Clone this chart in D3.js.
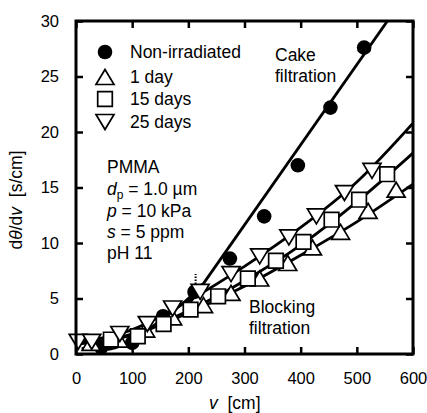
<!DOCTYPE html>
<html>
<head>
<meta charset="utf-8">
<script src="https://cdn.jsdelivr.net/npm/d3@7"></script>
<style>
  html, body { margin: 0; padding: 0; background: #fff; }
  text { font-family: "Liberation Sans", Arial, sans-serif; fill: #000; }
</style>
</head>
<body>
<div id="chart"></div>
<script>
'use strict';

// ---- data (v in cm, dθ/dv in s/cm) ----
const nonIrrV  = [45, 100, 155, 211, 274, 335, 395, 453, 513];
const nonIrrT  = [0.6, 1.0, 3.4, 5.6, 8.6, 12.4, 17.0, 22.2, 27.6];

const day1V    = [27, 76, 124, 172, 227, 276, 327, 377, 421, 471, 520, 570];
const day1T    = [1.0, 1.3, 2.2, 3.3, 4.4, 5.5, 6.8, 8.2, 9.6, 11.0, 12.9, 14.8];

const day15V   = [62, 110, 156, 204, 253, 306, 356, 405, 455, 504, 554];
const day15T   = [1.3, 1.6, 2.7, 4.0, 5.2, 6.8, 8.4, 10.1, 12.1, 13.9, 16.2];

const day25V   = [4, 28, 78, 127, 172, 221, 276, 327, 379, 428, 478, 527];
const day25T   = [1.1, 1.1, 1.8, 2.7, 4.1, 5.6, 7.2, 8.8, 10.5, 12.4, 14.5, 16.5];

// fitted curves
const cakeFitV     = [200, 560];
const cakeFitT     = [4.4, 30.4];
const nonIrrFitV   = [10, 50, 100, 150, 200, 225];
const nonIrrFitT   = [0.5, 0.4, 1.2, 3.0, 5.0, 6.3];
const day1FitV     = [0, 100, 200, 300, 400, 500, 600];
const day1FitT     = [0.9, 1.7, 3.7, 6.1, 8.9, 11.9, 15.3];
const day15FitV    = [0, 100, 200, 300, 400, 500, 600];
const day15FitT    = [0.9, 1.8, 3.9, 6.6, 9.8, 13.7, 18.1];
const day25FitV    = [0, 100, 200, 300, 400, 500, 600];
const day25FitT    = [1.0, 2.2, 4.8, 7.9, 11.4, 15.5, 20.8];

const transitionV  = 213;
const transitionT  = [6.3, 7.2];

const xTicks = [0, 100, 200, 300, 400, 500, 600];
const yTicks = [0, 5, 10, 15, 20, 25, 30];

const legendLabels = ['Non-irradiated', '1 day', '15 days', '25 days'];
const legendShapes = ['circle', 'up', 'square', 'down'];

// ---- layout ----
const W = 427, H = 413;
const x = d3.scaleLinear().domain([0, 600]).range([76, 413]);
const y = d3.scaleLinear().domain([0, 30]).range([354, 21]);

const svg = d3.select('#chart').append('svg')
    .attr('width', W).attr('height', H);

svg.append('defs').append('clipPath').attr('id', 'plot')
  .append('rect')
    .attr('x', x(0)).attr('y', y(30))
    .attr('width', x(600) - x(0)).attr('height', y(0) - y(30));

// ---- axes (ticks point inward) ----
const axisStyle = g => {
  g.select('.domain').remove();
  g.selectAll('.tick line').attr('stroke', '#000').attr('stroke-width', 2.5);
  g.selectAll('.tick text').attr('font-size', 16.5)
    .style('font-family', '"Liberation Sans", Arial, sans-serif');
};

svg.append('g').attr('transform', `translate(0,${y(0)})`)
  .call(d3.axisBottom(x).tickValues(xTicks).tickSize(-7).tickPadding(18))
  .call(axisStyle);
svg.append('g').attr('transform', `translate(0,${y(30)})`)
  .call(d3.axisTop(x).tickValues(xTicks).tickSize(-7).tickFormat(''))
  .call(axisStyle);
svg.append('g').attr('transform', `translate(${x(0)},0)`)
  .call(d3.axisLeft(y).tickValues(yTicks).tickSize(-7).tickPadding(17))
  .call(axisStyle);
svg.append('g').attr('transform', `translate(${x(600)},0)`)
  .call(d3.axisRight(y).tickValues(yTicks).tickSize(-7).tickFormat(''))
  .call(axisStyle);

// ---- fit lines ----
const lines = svg.append('g').attr('clip-path', 'url(#plot)');
const zip = (vs, ts) => vs.map((v, i) => [v, ts[i]]);
const curve = d3.line().x(d => x(d[0])).y(d => y(d[1])).curve(d3.curveMonotoneX);

[[cakeFitV, cakeFitT], [nonIrrFitV, nonIrrFitT], [day1FitV, day1FitT],
 [day15FitV, day15FitT], [day25FitV, day25FitT]].forEach(([vs, ts]) => {
  lines.append('path')
    .attr('d', curve(zip(vs, ts)))
    .attr('fill', 'none')
    .attr('stroke', '#000')
    .attr('stroke-width', 2.8);
});

lines.append('line')
  .attr('x1', x(transitionV)).attr('x2', x(transitionV))
  .attr('y1', y(transitionT[0])).attr('y2', y(transitionT[1]))
  .attr('stroke', '#000').attr('stroke-width', 2)
  .attr('stroke-dasharray', '1.5,1.5');

// ---- markers ----
function marker(g, shape, cx, cy) {
  if (shape === 'circle') {
    g.append('circle').attr('cx', cx).attr('cy', cy).attr('r', 7.3)
      .attr('fill', '#000');
    return;
  }
  let d;
  if (shape === 'square') d = `M${cx - 7.3},${cy - 7.3}h14.6v14.6h-14.6Z`;
  if (shape === 'up')     d = `M${cx},${cy - 7.5}L${cx + 9},${cy + 7.5}L${cx - 9},${cy + 7.5}Z`;
  if (shape === 'down')   d = `M${cx},${cy + 7.5}L${cx + 9},${cy - 7.5}L${cx - 9},${cy - 7.5}Z`;
  g.append('path').attr('d', d)
    .attr('fill', '#fff').attr('stroke', '#000')
    .attr('stroke-width', 1.7).attr('stroke-linejoin', 'miter');
}

const pts = svg.append('g');
[[nonIrrV, nonIrrT, 'circle'], [day1V, day1T, 'up'],
 [day15V, day15T, 'square'], [day25V, day25T, 'down']].forEach(([vs, ts, s]) => {
  vs.forEach((v, i) => marker(pts, s, x(v), y(ts[i])));
});

// ---- frame ----
svg.append('rect')
  .attr('x', x(0)).attr('y', y(30))
  .attr('width', x(600) - x(0)).attr('height', y(0) - y(30))
  .attr('fill', 'none').attr('stroke', '#000').attr('stroke-width', 3);

// ---- legend ----
const legY = [52, 77, 99, 122];
legendLabels.forEach((lab, i) => {
  marker(svg, legendShapes[i], 105, legY[i]);
  svg.append('text').attr('x', 130).attr('y', legY[i] + 6)
    .attr('font-size', 17.5).text(lab);
});

// ---- conditions ----
const cond = svg.append('text').attr('font-size', 17.5);
cond.append('tspan').attr('x', 107).attr('y', 173).text('PMMA');
const l2 = cond.append('tspan').attr('x', 107).attr('y', 195);
l2.append('tspan').attr('font-style', 'italic').text('d');
l2.append('tspan').attr('font-size', 12).attr('dy', 4).text('p');
l2.append('tspan').attr('dy', -4).text(' = 1.0 µm');
const l3 = cond.append('tspan').attr('x', 107).attr('y', 217);
l3.append('tspan').attr('font-style', 'italic').text('p');
l3.append('tspan').text(' = 10 kPa');
const l4 = cond.append('tspan').attr('x', 107).attr('y', 238);
l4.append('tspan').attr('font-style', 'italic').text('s');
l4.append('tspan').text(' = 5 ppm');
cond.append('tspan').attr('x', 107).attr('y', 259).text('pH 11');

// ---- annotations ----
svg.append('text').attr('x', 275).attr('y', 61).attr('font-size', 17.5).text('Cake');
svg.append('text').attr('x', 275).attr('y', 82).attr('font-size', 17.5).text('filtration');
svg.append('text').attr('x', 249).attr('y', 313).attr('font-size', 17.5).text('Blocking');
svg.append('text').attr('x', 249).attr('y', 334).attr('font-size', 17.5).text('filtration');

// ---- axis titles ----
const xt = svg.append('text').attr('x', 209).attr('y', 409).attr('font-size', 17.5);
xt.append('tspan').attr('font-style', 'italic').text('v');
xt.append('tspan').text('\u00a0\u00a0[cm]');

const yt = svg.append('text')
  .attr('transform', 'translate(22,200) rotate(-90)')
  .attr('text-anchor', 'middle').attr('font-size', 17.5);
yt.append('tspan').text('d');
yt.append('tspan').attr('font-style', 'italic').text('θ');
yt.append('tspan').text('/d');
yt.append('tspan').attr('font-style', 'italic').text('v');
yt.append('tspan').text('\u00a0\u00a0[s/cm]');
</script>
</body>
</html>
